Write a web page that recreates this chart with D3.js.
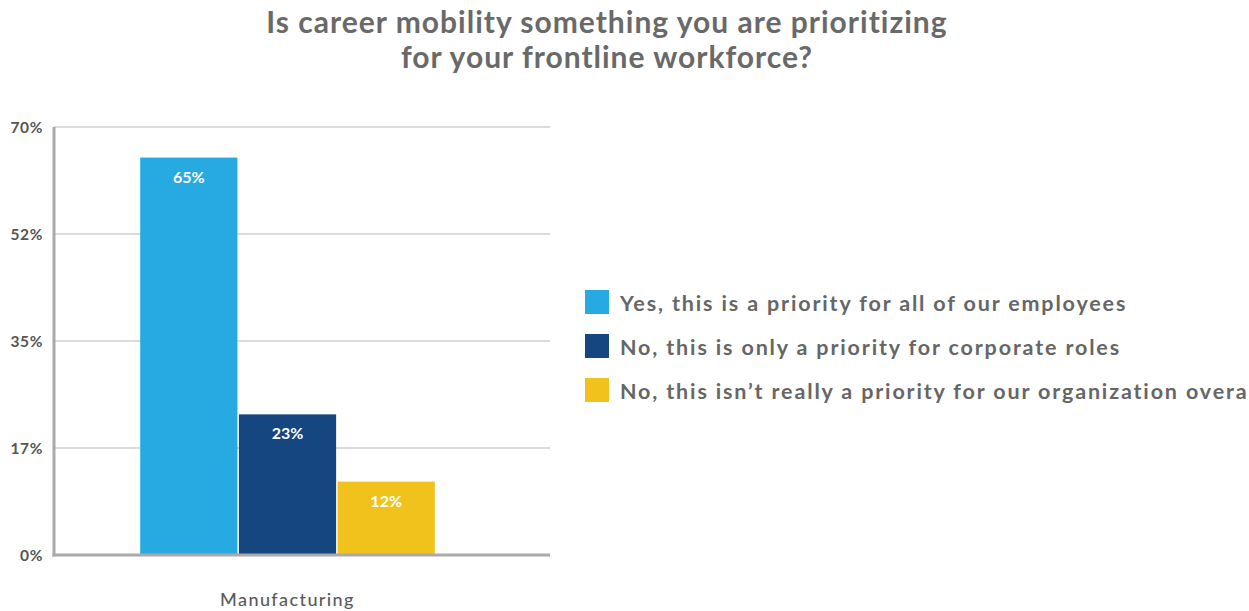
<!DOCTYPE html>
<html><head><meta charset="utf-8">
<script src="https://cdn.jsdelivr.net/npm/d3@7"></script>
<style>
body{margin:0;background:#fff;}
svg{display:block;font-family:Lato,"Open Sans",sans-serif;}
</style></head>
<body>
<svg id="chart" width="1249" height="611"></svg>
<script>
const titleLines = ["Is career mobility something you are prioritizing", "for your frontline workforce?"];
const categories = ["Manufacturing"];
const seriesNames = [
  "Yes, this is a priority for all of our employees",
  "No, this is only a priority for corporate roles",
  "No, this isn\u2019t really a priority for our organization overall"
];
const seriesValues = [65, 23, 12];
const seriesColors = ["#27aae2", "#15467f", "#f1c21b"];
const yTickValues = [0, 17.5, 35, 52.5, 70];
const yTickLabels = ["0%", "17%", "35%", "52%", "70%"];

const svg = d3.select("#chart");
const mLeft = 54, mRight = 550, mTop = 127, mBottom = 555;

svg.selectAll("text.title").data(titleLines).join("text")
  .attr("class","title")
  .attr("x", 607).attr("y", (d,i)=>33 + i*35)
  .attr("text-anchor","middle")
  .attr("font-size", 30).attr("font-weight", 700).attr("letter-spacing", "1px").attr("fill", "#696969")
  .text(d=>d);

const y = d3.scaleLinear().domain([0,70]).range([mBottom, mTop]);
const x0 = d3.scaleBand().domain(categories).range([mLeft, 521]).paddingOuter(0.2925).paddingInner(0);
const x1 = d3.scaleBand().domain(d3.range(seriesValues.length)).range([0, x0.bandwidth()]).paddingInner(0.015);

// gridlines
svg.append("g").selectAll("line").data(yTickValues.filter(v=>v>0)).join("line")
  .attr("x1", mLeft).attr("x2", mRight)
  .attr("y1", d=>y(d)).attr("y2", d=>y(d))
  .attr("stroke", "#cfcfcf").attr("stroke-width", 1.5);

// y axis
const yAxis = d3.axisLeft(y).tickValues(yTickValues).tickSize(0).tickPadding(10)
  .tickFormat((d,i)=>yTickLabels[i]);
const gy = svg.append("g").attr("transform", `translate(${mLeft-11},0)`).call(yAxis);
gy.select(".domain").remove();
gy.selectAll("text").attr("font-family","Lato,sans-serif").attr("font-size", 15.5).attr("font-weight", 700)
  .attr("letter-spacing", "0.6px").attr("fill", "#555").attr("dy","0.35em").attr("x",0);

// bars
const g = svg.append("g").attr("transform", `translate(${x0(categories[0])},0)`);
g.selectAll("rect").data(seriesValues).join("rect")
  .attr("x", (d,i)=>x1(i)).attr("width", x1.bandwidth())
  .attr("y", d=>y(d)).attr("height", d=>mBottom - y(d))
  .attr("fill", (d,i)=>seriesColors[i]);
g.selectAll("text").data(seriesValues).join("text")
  .attr("x", (d,i)=>x1(i)+x1.bandwidth()/2).attr("y", d=>y(d)+25)
  .attr("text-anchor","middle").attr("font-size", 16).attr("font-weight", 700).attr("fill", "#fff")
  .text(d=>d+"%");

// axis lines
svg.append("line").attr("x1", mLeft).attr("x2", mLeft).attr("y1", mTop).attr("y2", mBottom+1.5)
  .attr("stroke", "#aaa").attr("stroke-width", 3);
svg.append("line").attr("x1", mLeft-1.5).attr("x2", mRight).attr("y1", mBottom).attr("y2", mBottom)
  .attr("stroke", "#aaa").attr("stroke-width", 3);

// x axis label
const xAxis = d3.axisBottom(x0).tickSize(0).tickPadding(0);
const gx = svg.append("g").attr("transform", `translate(0,${mBottom})`).call(xAxis);
gx.select(".domain").remove();
gx.selectAll("text").attr("font-family","Lato,sans-serif").attr("font-size", 18).attr("font-weight", 500)
  .attr("letter-spacing", "1.4px").attr("fill", "#5a5a5a").attr("y", 51).attr("dy", 0);

// legend
const lg = svg.append("g").selectAll("g").data(seriesNames).join("g")
  .attr("transform", (d,i)=>`translate(585,${290 + i*44})`);
lg.append("rect").attr("width", 24).attr("height", 24).attr("fill", (d,i)=>seriesColors[i]);
lg.append("text").attr("x", 35).attr("y", 21).attr("font-size", 21.5).attr("font-weight", 700)
  .attr("letter-spacing", "1.85px").attr("fill", "#666").text(d=>d);
</script>
</body></html>
